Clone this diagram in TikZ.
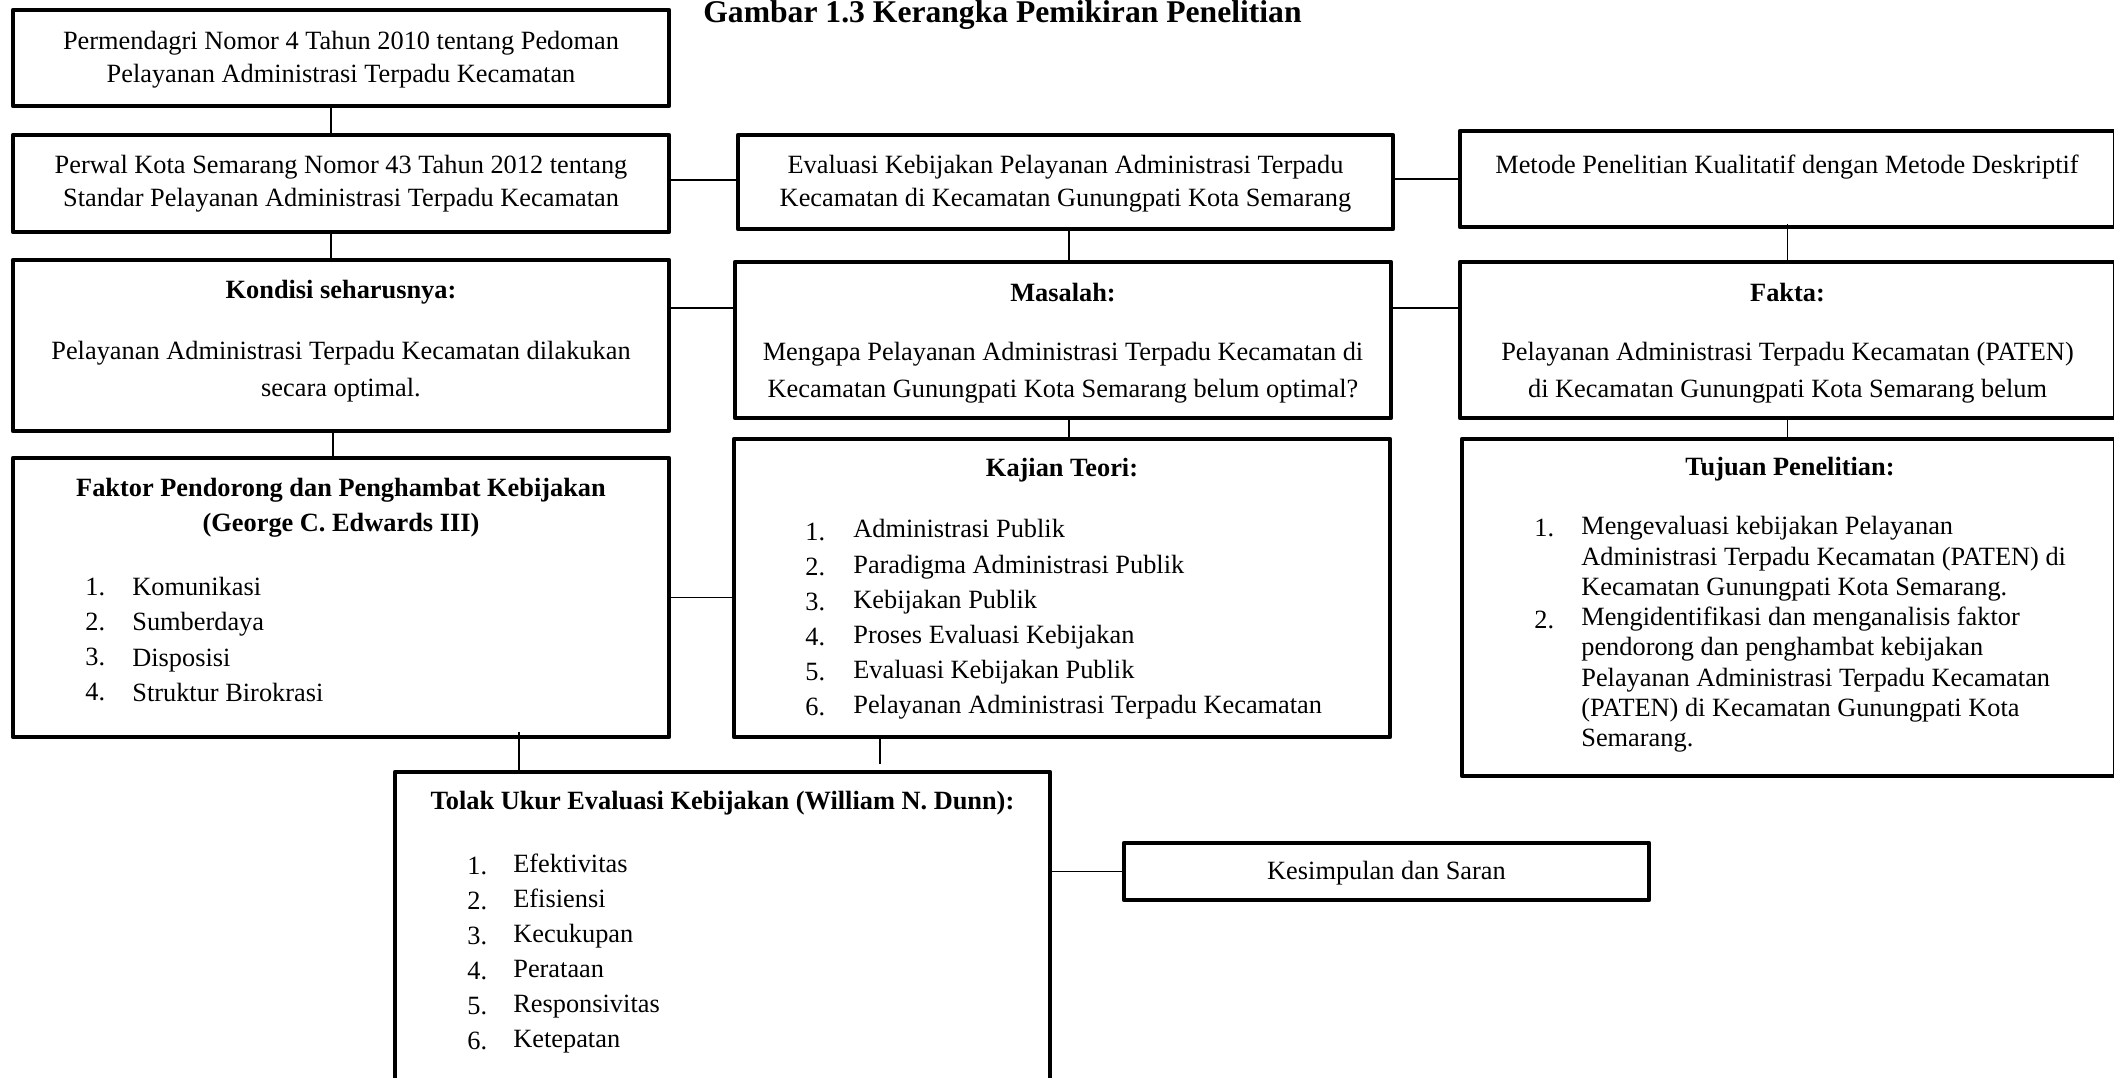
\documentclass[tikz,border=0pt]{standalone}
\usepackage{fontspec}
\setmainfont{Liberation Serif}
\usetikzlibrary{calc}
\tikzset{
  bx/.style={draw,line width=2.6pt,line join=round,inner sep=0pt},
  ln/.style={line width=1.1pt},
  tx/.style={inner sep=0pt,align=center,font=\fontsize{15}{19}\selectfont},
  txw/.style={tx,font=\fontsize{15}{21}\selectfont},
  hd/.style={tx,font=\fontsize{15}{20}\selectfont\bfseries},
  lst/.style={inner sep=0pt,align=left,anchor=west,font=\fontsize{15}{20}\selectfont},
  lstn/.style={lst,font=\fontsize{15}{17.25}\selectfont},
}
\newcommand{\frm}[5]{\node[bx,minimum width=#4*0.02cm,minimum height=#5*0.02cm] (#1) at (#2,#3) {};}

\begin{document}
\begin{tikzpicture}[x=0.02cm,y=-0.02cm]
  \useasboundingbox (0,0) rectangle (2114,1078);
  \node[inner sep=0pt,anchor=base west,font=\fontsize{18}{20}\selectfont\bfseries] (ttl) at (703,23) {Gambar 1.3 Kerangka Pemikiran Penelitian};
  \frm{perm}{341}{58}{656}{96}
  \frm{perwal}{341}{183.5}{656}{97}
  \frm{evl}{1065.5}{182}{655}{94}
  \frm{met}{1787.5}{179}{655}{96}
  \frm{kon}{341}{345.5}{656}{171}
  \frm{mas}{1063}{340}{656}{156}
  \frm{fak}{1787.5}{340}{655}{156}
  \frm{fpd}{341}{597.5}{656}{279}
  \frm{kaj}{1062}{588}{656}{298}
  \frm{tuj}{1788.5}{607.5}{653}{337}
  \frm{tol}{722.5}{936}{655}{328}
  \frm{kes}{1386.5}{871.5}{525}{57}
  \node[tx] (permT) at (341,60) {Permendagri Nomor 4 Tahun 2010 tentang Pedoman\\Pelayanan Administrasi Terpadu Kecamatan};
  \node[tx] (perwalT) at (341,183.5) {Perwal Kota Semarang Nomor 43 Tahun 2012 tentang\\Standar Pelayanan Administrasi Terpadu Kecamatan};
  \node[tx] (evlT) at (1065.5,183.5) {Evaluasi Kebijakan Pelayanan Administrasi Terpadu\\Kecamatan di Kecamatan Gunungpati Kota Semarang};
  \node[tx] (metT) at (1787,167) {Metode Penelitian Kualitatif dengan Metode Deskriptif};
  \node[hd] (konH) at (341,292) {Kondisi seharusnya:};
  \node[txw] (konT) at (341,371.5) {Pelayanan Administrasi Terpadu Kecamatan dilakukan\\secara optimal.};
  \node[hd] (masH) at (1063,293) {Masalah:};
  \node[txw] (masT) at (1063,372.5) {Mengapa Pelayanan Administrasi Terpadu Kecamatan di\\Kecamatan Gunungpati Kota Semarang belum optimal?};
  \node[hd] (fakH) at (1787.5,293) {Fakta:};
  \node[txw] (fakT) at (1787.5,372.5) {Pelayanan Administrasi Terpadu Kecamatan (PATEN)\\di Kecamatan Gunungpati Kota Semarang belum};
  \node[hd] (fpdH) at (341,507.5) {Faktor Pendorong dan Penghambat Kebijakan\\(George C. Edwards III)};
  \node[lst] (fpdN) at (85,639.5) {1.\\2.\\3.\\4.};
  \node[lst] (fpdL) at (132,639.5) {Komunikasi\\Sumberdaya\\Disposisi\\Struktur Birokrasi};
  \node[hd] (kajH) at (1062,470) {Kajian Teori:};
  \node[lst] (kajN) at (805,619.5) {1.\\2.\\3.\\4.\\5.\\6.};
  \node[lst] (kajL) at (853,619.5) {Administrasi Publik\\Paradigma Administrasi Publik\\Kebijakan Publik\\Proses Evaluasi Kebijakan\\Evaluasi Kebijakan Publik\\Pelayanan Administrasi Terpadu Kecamatan};
  \node[hd] (tujH) at (1790,469) {Tujuan Penelitian:};
  \node[lstn] (tujN1) at (1534,528) {1.};
  \node[lstn] (tujN2) at (1534,620) {2.};
  \node[lstn] (tujL) at (1581,634.5) {Mengevaluasi kebijakan Pelayanan\\Administrasi Terpadu Kecamatan (PATEN) di\\Kecamatan Gunungpati Kota Semarang.\\Mengidentifikasi dan menganalisis faktor\\pendorong dan penghambat kebijakan\\Pelayanan Administrasi Terpadu Kecamatan\\(PATEN) di Kecamatan Gunungpati Kota\\Semarang.};
  \node[hd] (tolH) at (722.5,803) {Tolak Ukur Evaluasi Kebijakan (William N. Dunn):};
  \node[lst] (tolN) at (467,953.5) {1.\\2.\\3.\\4.\\5.\\6.};
  \node[lst] (tolL) at (513,953.5) {Efektivitas\\Efisiensi\\Kecukupan\\Perataan\\Responsivitas\\Ketepatan};
  \node[tx] (kesT) at (1386.5,873) {Kesimpulan dan Saran};
  \coordinate (kajEnd) at (880,764);
  \draw[ln] ([xshift=-0.2cm]perm.south) -- ([xshift=-0.2cm]perwal.north);
  \draw[ln] ([xshift=-0.2cm]perwal.south) -- ([xshift=-0.2cm]kon.north);
  \draw[ln] ([xshift=-0.16cm]kon.south) -- ([xshift=-0.16cm]fpd.north);
  \draw[ln] ([yshift=0.07cm]perwal.east) -- ([yshift=0.07cm]perwal.east -| evl.west);
  \draw[ln] ([yshift=0.06cm]evl.east) -- ([yshift=0.06cm]evl.east -| met.west);
  \draw[ln] ([xshift=0.07cm]evl.south) -- ([xshift=0.07cm]evl.south |- mas.north);
  \draw[ln] ([yshift=0.75cm]kon.east) -- ([yshift=0.75cm]kon.east -| mas.west);
  \draw[ln] ([yshift=0.64cm]mas.east) -- ([yshift=0.64cm]mas.east -| fak.west);
  \draw[ln] ([yshift=0.1cm]met.south) -- (met.south |- fak.north);
  \draw[ln] ([xshift=0.12cm]mas.south) -- ([xshift=0.12cm]mas.south |- kaj.north);
  \draw[ln] (fak.south) -- (fak.south |- tuj.north);
  \draw[ln] (fpd.east) -- (fpd.east -| kaj.west);
  \draw[ln] ([shift={(3.56cm,0.14cm)}]fpd.south) -- ([xshift=3.56cm]fpd.south |- tol.north);
  \draw[ln] (kaj.south -| kajEnd) -- (kajEnd);
  \draw[ln] (kes.west) -- (kes.west -| tol.east);
\end{tikzpicture}
\end{document}
